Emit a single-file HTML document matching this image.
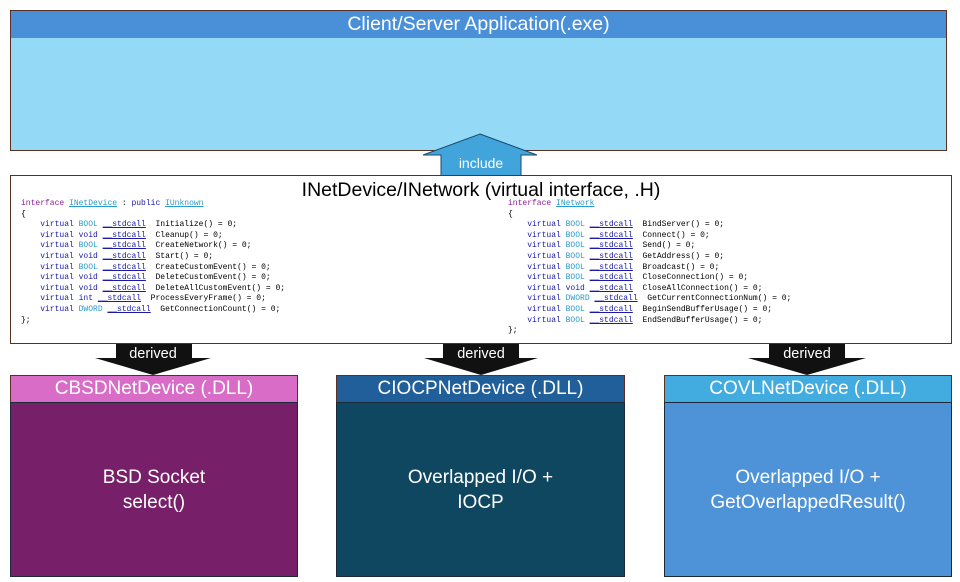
<!DOCTYPE html>
<html><head><meta charset="utf-8"><style>
*{margin:0;padding:0;box-sizing:border-box}
body{width:960px;height:582px;background:#fff;position:relative;overflow:hidden;font-family:"Liberation Sans",sans-serif}
.a{position:absolute}
.hd{color:#fff;font-size:19px;text-align:center;line-height:26px;border:1.5px solid #5a3020}
.bd{border:1.5px solid #1a2a3a;color:#fff;font-size:19px;text-align:center;display:flex;align-items:center;justify-content:center;line-height:25px}
pre{font-family:"Liberation Mono",monospace;font-size:8px;line-height:10.6px;color:#000}
.k{color:#8a1e9c}.b{color:#1a1aa8}.t{color:#2a9ac8}.u{color:#2a9ac8;text-decoration:underline}.s{color:#1a1aa8;text-decoration:underline}
</style></head><body>
<div class="a hd" style="left:10px;top:10px;width:937px;height:29px;background:#4a90d9;font-size:19.5px">Client/Server Application(.exe)</div>
<div class="a" style="left:10px;top:38px;width:937px;height:113px;background:#94daf7;border:1.5px solid #5a3020;border-top:none"></div>

<svg class="a" style="left:0;top:0" width="960" height="582">
<polygon points="480,134 537,155 521,155 521,176 441,176 441,155 423,155" fill="#41a5dc" stroke="#1a4a6a" stroke-width="1"/>
<polygon points="116,343 192,343 192,358 211,358 153,375 95,358 116,358" fill="#111"/>
<polygon points="443,343 519,343 519,358 538,358 481,375 424,358 443,358" fill="#111"/>
<polygon points="769,343 845,343 845,358 866,358 807,375 748,358 769,358" fill="#111"/>
<text x="481" y="168" fill="#fff" font-size="14" text-anchor="middle" font-family="Liberation Sans">include</text>
</svg>

<div class="a" style="left:10px;top:175px;width:942px;height:169px;border:1.5px solid #5a3020;background:#fff">
<div class="a" style="left:0;top:3px;width:940px;text-align:center;font-size:19.5px;color:#000">INetDevice/INetwork (virtual interface, .H)</div>
<pre class="a" style="left:10px;top:23px"><span class="k">interface</span> <span class="u">INetDevice</span> : <span class="b">public</span> <span class="u">IUnknown</span>
{
    <span class="b">virtual</span> <span class="t">BOOL</span> <span class="s">__stdcall</span>  Initialize() = 0;
    <span class="b">virtual</span> <span class="b">void</span> <span class="s">__stdcall</span>  Cleanup() = 0;
    <span class="b">virtual</span> <span class="t">BOOL</span> <span class="s">__stdcall</span>  CreateNetwork() = 0;
    <span class="b">virtual</span> <span class="b">void</span> <span class="s">__stdcall</span>  Start() = 0;
    <span class="b">virtual</span> <span class="t">BOOL</span> <span class="s">__stdcall</span>  CreateCustomEvent() = 0;
    <span class="b">virtual</span> <span class="b">void</span> <span class="s">__stdcall</span>  DeleteCustomEvent() = 0;
    <span class="b">virtual</span> <span class="b">void</span> <span class="s">__stdcall</span>  DeleteAllCustomEvent() = 0;
    <span class="b">virtual</span> <span class="b">int</span> <span class="s">__stdcall</span>  ProcessEveryFrame() = 0;
    <span class="b">virtual</span> <span class="t">DWORD</span> <span class="s">__stdcall</span>  GetConnectionCount() = 0;
};</pre>
<pre class="a" style="left:497px;top:23px"><span class="k">interface</span> <span class="u">INetwork</span>
{
    <span class="b">virtual</span> <span class="t">BOOL</span> <span class="s">__stdcall</span>  BindServer() = 0;
    <span class="b">virtual</span> <span class="t">BOOL</span> <span class="s">__stdcall</span>  Connect() = 0;
    <span class="b">virtual</span> <span class="t">BOOL</span> <span class="s">__stdcall</span>  Send() = 0;
    <span class="b">virtual</span> <span class="t">BOOL</span> <span class="s">__stdcall</span>  GetAddress() = 0;
    <span class="b">virtual</span> <span class="t">BOOL</span> <span class="s">__stdcall</span>  Broadcast() = 0;
    <span class="b">virtual</span> <span class="t">BOOL</span> <span class="s">__stdcall</span>  CloseConnection() = 0;
    <span class="b">virtual</span> <span class="b">void</span> <span class="s">__stdcall</span>  CloseAllConnection() = 0;
    <span class="b">virtual</span> <span class="t">DWORD</span> <span class="s">__stdcall</span>  GetCurrentConnectionNum() = 0;
    <span class="b">virtual</span> <span class="t">BOOL</span> <span class="s">__stdcall</span>  BeginSendBufferUsage() = 0;
    <span class="b">virtual</span> <span class="t">BOOL</span> <span class="s">__stdcall</span>  EndSendBufferUsage() = 0;
};</pre>
</div>

<svg class="a" style="left:0;top:0" width="960" height="582">
<text x="153" y="358" fill="#fff" font-size="14.5" text-anchor="middle" font-family="Liberation Sans">derived</text>
<text x="481" y="358" fill="#fff" font-size="14.5" text-anchor="middle" font-family="Liberation Sans">derived</text>
<text x="807" y="358" fill="#fff" font-size="14.5" text-anchor="middle" font-family="Liberation Sans">derived</text>
</svg>

<div class="a hd" style="left:10px;top:375px;width:288px;height:28px;background:#d96cc6">CBSDNetDevice (.DLL)</div>
<div class="a bd" style="left:10px;top:402px;width:288px;height:175px;background:#781f6a">BSD Socket<br>select()</div>

<div class="a hd" style="left:336px;top:375px;width:289px;height:28px;background:#215f9a">CIOCPNetDevice (.DLL)</div>
<div class="a bd" style="left:336px;top:402px;width:289px;height:175px;background:#0f4760">Overlapped I/O +<br>IOCP</div>

<div class="a hd" style="left:664px;top:375px;width:288px;height:28px;background:#42abe0">COVLNetDevice (.DLL)</div>
<div class="a bd" style="left:664px;top:402px;width:288px;height:175px;background:#4e93d8">Overlapped I/O +<br>GetOverlappedResult()</div>
</body></html>
